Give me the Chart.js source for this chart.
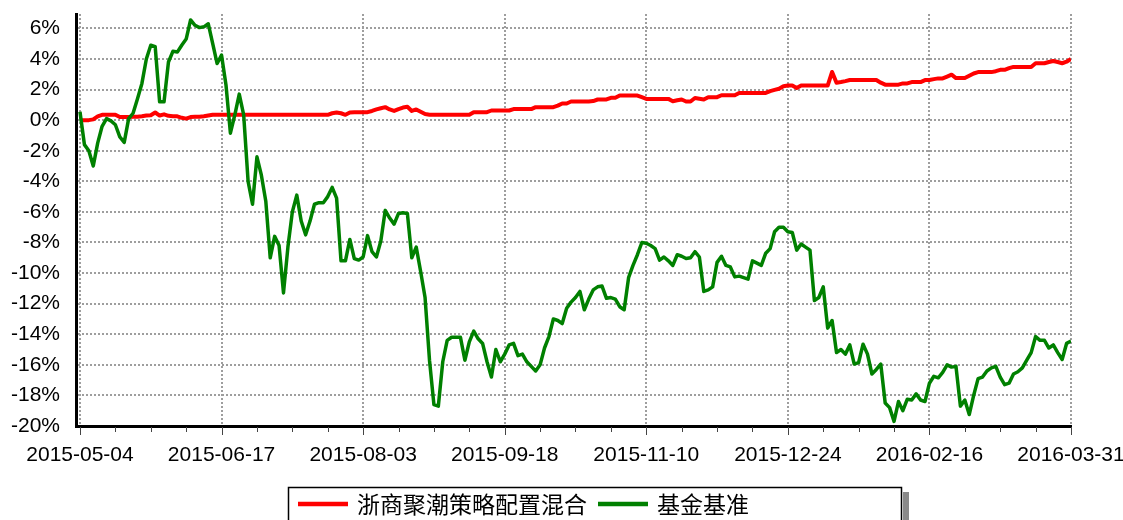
<!DOCTYPE html>
<html>
<head>
<meta charset="utf-8">
<title>浙商聚潮策略配置混合</title>
<script src="https://cdn.jsdelivr.net/npm/chart.js@4"></script>
<style>
  body { margin: 0; background: #fff; overflow: hidden; }
  canvas { display: block; }
</style>
</head>
<body>
<canvas id="navChart" width="1123" height="520"></canvas>
<script>
// tick labels on the date axis, one every 32 trading days
const tickLabels = ["2015-05-04", "2015-06-17", "2015-08-03", "2015-09-18",
  "2015-11-10", "2015-12-24", "2016-02-16", "2016-03-31"];
const yTicks = [-20, -18, -16, -14, -12, -10, -8, -6, -4, -2, 0, 2, 4, 6];
const seriesNames = ["浙商聚潮策略配置混合", "基金基准"];

// fund cumulative return (%), one value per trading day
const fundReturn = [
  0, 0, 0, 0.05, 0.25, 0.35, 0.35, 0.35, 0.35, 0.2,
  0.2, 0.2, 0.22, 0.22, 0.25, 0.3, 0.32, 0.5, 0.3, 0.38,
  0.28, 0.25, 0.25, 0.15, 0.1, 0.2, 0.22, 0.22, 0.25, 0.3,
  0.35, 0.35, 0.35, 0.35, 0.35, 0.35, 0.35, 0.35, 0.35, 0.35,
  0.35, 0.35, 0.35, 0.35, 0.35, 0.35, 0.35, 0.35, 0.35, 0.35,
  0.35, 0.35, 0.35, 0.35, 0.35, 0.35, 0.35, 0.45, 0.5, 0.45,
  0.35, 0.5, 0.52, 0.52, 0.52, 0.52, 0.6, 0.7, 0.78, 0.85,
  0.7, 0.6, 0.72, 0.82, 0.87, 0.6, 0.7, 0.55, 0.4, 0.35,
  0.35, 0.35, 0.35, 0.35, 0.35, 0.35, 0.35, 0.35, 0.35, 0.52,
  0.52, 0.52, 0.52, 0.63, 0.63, 0.63, 0.63, 0.63, 0.72, 0.72,
  0.72, 0.72, 0.72, 0.85, 0.85, 0.85, 0.85, 0.85, 0.95, 1.09,
  1.09, 1.22, 1.22, 1.22, 1.22, 1.22, 1.25, 1.35, 1.35, 1.35,
  1.46, 1.46, 1.61, 1.61, 1.61, 1.61, 1.61, 1.5, 1.39, 1.39,
  1.39, 1.39, 1.39, 1.39, 1.24, 1.3, 1.35, 1.22, 1.22, 1.45,
  1.4, 1.35, 1.5, 1.5, 1.5, 1.63, 1.63, 1.63, 1.63, 1.78,
  1.78, 1.78, 1.78, 1.78, 1.78, 1.78, 1.9, 1.98, 2.05, 2.22,
  2.26, 2.26, 2.1, 2.26, 2.26, 2.26, 2.26, 2.26, 2.26, 2.26,
  3.15, 2.45, 2.49, 2.55, 2.62, 2.62, 2.62, 2.62, 2.62, 2.62,
  2.62, 2.45, 2.32, 2.32, 2.32, 2.32, 2.4, 2.4, 2.49, 2.49,
  2.49, 2.62, 2.62, 2.68, 2.73, 2.73, 2.85, 2.97, 2.75, 2.75,
  2.75, 2.9, 3.05, 3.14, 3.14, 3.14, 3.14, 3.2, 3.29, 3.29,
  3.4, 3.48, 3.48, 3.48, 3.48, 3.48, 3.72, 3.72, 3.72, 3.8,
  3.87, 3.8, 3.72, 3.82, 4.0
];

// benchmark cumulative return (%)
const benchReturn = [
  0.55, -1.6, -2.0, -3.0, -1.5, -0.4, 0.1, -0.05, -0.3, -1.1,
  -1.45, 0.1, 0.45, 1.4, 2.4, 4.0, 4.9, 4.8, 1.2, 1.2,
  3.8, 4.5, 4.45, 4.9, 5.3, 6.55, 6.2, 6.05, 6.1, 6.3,
  5.0, 3.7, 4.25, 2.3, -0.85, 0.35, 1.7, 0.35, -4.0, -5.5,
  -2.4, -3.6, -5.3, -9.0, -7.6, -8.2, -11.3, -8.3, -6.0, -4.9,
  -6.6, -7.5, -6.6, -5.5, -5.4, -5.4, -5.0, -4.4, -5.1, -9.2,
  -9.2, -7.8, -9.05, -9.15, -8.95, -7.55, -8.6, -8.95, -7.9, -5.9,
  -6.4, -6.8, -6.1, -6.05, -6.1, -9.0, -8.3, -9.9, -11.6, -15.7,
  -18.6, -18.7, -15.8, -14.4, -14.2, -14.2, -14.2, -15.7, -14.5, -13.8,
  -14.3, -14.6, -15.8, -16.8, -15.0, -15.8, -15.3, -14.7, -14.6, -15.4,
  -15.3, -15.8, -16.1, -16.4, -16.0, -14.9, -14.15, -13.0, -13.1, -13.3,
  -12.3, -11.9, -11.6, -11.2, -12.4, -11.7, -11.1, -10.9, -10.85, -11.65,
  -11.6, -11.7, -12.2, -12.4, -10.3, -9.5, -8.8, -8.0, -8.05, -8.2,
  -8.4, -9.15, -8.95, -9.2, -9.5, -8.8, -8.9, -9.05, -9.0, -8.6,
  -8.95, -11.2, -11.1, -10.9, -9.3, -8.9, -9.5, -9.6, -10.25, -10.2,
  -10.3, -10.4, -9.2, -9.35, -9.5, -8.7, -8.4, -7.3, -7.0, -7.0,
  -7.3, -7.35, -8.5, -8.1, -8.3, -8.5, -11.8, -11.6, -10.9, -13.6,
  -13.1, -15.2, -15.0, -15.3, -14.7, -15.95, -15.85, -14.65, -15.3, -16.6,
  -16.3, -15.95, -18.5, -18.8, -19.7, -18.4, -19.0, -18.25, -18.3, -17.9,
  -18.3, -18.4, -17.2, -16.75, -16.85, -16.5, -16.0, -16.15, -16.1, -18.7,
  -18.3, -19.25, -18.0, -16.9, -16.8, -16.4, -16.2, -16.1, -16.8, -17.3,
  -17.2, -16.6, -16.45, -16.2, -15.7, -15.2, -14.15, -14.4, -14.4, -14.9,
  -14.7, -15.2, -15.65, -14.6, -14.45
];

const labelStep = 32;   // trading days between date labels
const minorStep = 8;    // small tick marks
const lastIndex = fundReturn.length - 1;

const toPoints = arr => arr.map((v, i) => ({ x: i, y: v }));

// small ticks under the date axis and the boxed legend at the bottom
const extras = {
  id: "extras",
  afterDraw(chart) {
    const ctx = chart.ctx;
    const xs = chart.scales.x;
    const area = chart.chartArea;
    ctx.save();

    ctx.strokeStyle = "#444";
    ctx.lineWidth = 1;
    for (let v = 0; v <= lastIndex; v += minorStep) {
      const px = Math.round(xs.getPixelForValue(v)) + 0.5;
      const len = v % labelStep === 0 ? 9 : 6;
      ctx.beginPath();
      ctx.moveTo(px, area.bottom + 1);
      ctx.lineTo(px, area.bottom + len);
      ctx.stroke();
    }

    // legend frame with its shadow on the right
    ctx.fillStyle = "#8a8a8a";
    ctx.fillRect(903, 492, 6, 40);
    ctx.strokeStyle = "#000";
    ctx.lineWidth = 1.5;
    ctx.strokeRect(288.5, 487.5, 613, 60);

    ctx.font = '23px "Noto Sans CJK SC", sans-serif';
    ctx.textBaseline = "middle";
    ctx.textAlign = "left";
    let lx = 298;
    const ly = 504;
    chart.data.datasets.forEach(ds => {
      ctx.strokeStyle = ds.borderColor;
      ctx.lineWidth = 4.5;
      ctx.beginPath();
      ctx.moveTo(lx, ly);
      ctx.lineTo(lx + 50, ly);
      ctx.stroke();
      ctx.fillStyle = "#000";
      ctx.fillText(ds.label, lx + 59, ly);
      lx += 59 + ctx.measureText(ds.label).width + 11;
    });
    ctx.restore();
  }
};

const ctx = document.getElementById("navChart").getContext("2d");

new Chart(ctx, {
  type: "line",
  data: {
    datasets: [
      {
        label: seriesNames[0],
        data: toPoints(fundReturn),
        borderColor: "#ff0000",
        backgroundColor: "#ff0000",
        borderWidth: 4,
        pointRadius: 0,
        borderJoinStyle: "round",
        order: 2,
      },
      {
        label: seriesNames[1],
        data: toPoints(benchReturn),
        borderColor: "#008000",
        backgroundColor: "#008000",
        borderWidth: 3.5,
        pointRadius: 0,
        borderJoinStyle: "round",
        order: 1,
      },
    ],
  },
  options: {
    responsive: false,
    animation: false,
    devicePixelRatio: 1,
    layout: { padding: { left: 0, right: 52, top: 14, bottom: 54 } },
    plugins: {
      legend: { display: false },
      tooltip: { enabled: false },
    },
    scales: {
      x: {
        type: "linear",
        min: -0.9,
        max: lastIndex,
        afterBuildTicks: scale => {
          scale.ticks = tickLabels.map((t, k) => ({ value: k * labelStep }));
        },
        afterFit: scale => {
          scale.height = 40;
          scale.paddingLeft = 0;
          scale.paddingRight = 0;
        },
        ticks: {
          autoSkip: false,
          maxRotation: 0,
          padding: 17,
          color: "#000",
          font: { family: '"Liberation Sans", Arial, sans-serif', size: 21 },
          callback: value => tickLabels[Math.round(value / labelStep)],
        },
        grid: { color: "#9e9e9e", lineWidth: 2, drawTicks: false },
        border: { display: true, color: "#000", width: 3, dash: [2, 2] },
      },
      y: {
        min: -20,
        max: 6.94,
        afterBuildTicks: scale => {
          scale.ticks = yTicks.map(v => ({ value: v }));
        },
        afterFit: scale => {
          scale.width = 76;
          scale.paddingTop = 0;
          scale.paddingBottom = 0;
        },
        ticks: {
          padding: 16,
          color: "#000",
          font: { family: '"Liberation Sans", Arial, sans-serif', size: 21 },
          callback: value => value + "%",
        },
        grid: { color: "#9e9e9e", lineWidth: 2, drawTicks: false },
        border: { display: true, color: "#000", width: 3, dash: [2, 2] },
      },
    },
  },
  plugins: [extras],
});
</script>
</body>
</html>
